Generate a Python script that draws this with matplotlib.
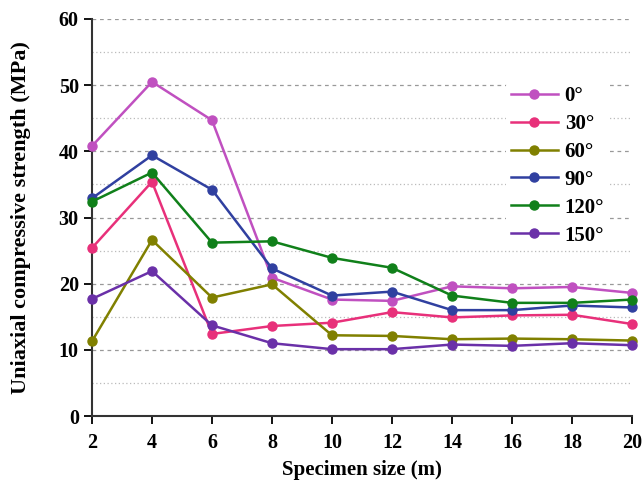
import matplotlib.pyplot as plt
from matplotlib.ticker import MultipleLocator

plt.rcParams["font.family"] = ["Liberation Serif", "DejaVu Serif"]
plt.rcParams["font.weight"] = "bold"

sizes = [2, 4, 6, 8, 10, 12, 14, 16, 18, 20]
labels = ["0°", "30°", "60°", "90°", "120°", "150°"]
ucs_0 = [40.8, 50.5, 44.7, 20.9, 17.6, 17.4, 19.6, 19.3, 19.5, 18.6]
ucs_30 = [25.4, 35.4, 12.4, 13.6, 14.1, 15.7, 14.9, 15.2, 15.3, 13.9]
ucs_60 = [11.3, 26.6, 17.9, 19.9, 12.2, 12.1, 11.6, 11.7, 11.6, 11.4]
ucs_90 = [32.9, 39.4, 34.2, 22.3, 18.2, 18.8, 16.0, 16.0, 16.7, 16.4]
ucs_120 = [32.4, 36.8, 26.2, 26.4, 23.9, 22.4, 18.2, 17.1, 17.1, 17.6]
ucs_150 = [17.7, 21.9, 13.7, 11.0, 10.1, 10.1, 10.8, 10.6, 11.0, 10.7]
colors = ["#c050c0", "#e8307a", "#808000", "#3040a0", "#10801a", "#6a30a8"]


def main():
    fig = plt.figure(figsize=(6.44, 4.84), dpi=100)
    ax = fig.add_axes([92 / 644, 68 / 484, 540 / 644, 397 / 484])

    series = [ucs_0, ucs_30, ucs_60, ucs_90, ucs_120, ucs_150]
    for vals, lab, c in zip(series, labels, colors):
        ax.plot(sizes, vals, color=c, lw=1.8, marker="o", ms=6.5,
                mfc=c, mec=c, label=lab, zorder=3, clip_on=False)

    ax.set_xlim(2, 20)
    ax.set_ylim(0, 60)
    ax.set_xticks(sizes)
    ax.yaxis.set_major_locator(MultipleLocator(10))
    ax.yaxis.set_minor_locator(MultipleLocator(5))
    ax.grid(True, which="major", axis="y", ls=(0, (3, 3)), color="#999999", lw=0.9)
    ax.grid(True, which="minor", axis="y", ls=(0, (1, 2)), color="#bbbbbb", lw=0.9)
    ax.tick_params(axis="y", which="minor", length=0)
    ax.tick_params(axis="both", which="major", direction="out", length=6, width=1.3,
                   labelsize=14.5)
    ax.tick_params(axis="x", pad=6)
    ax.spines[["top", "right"]].set_visible(False)
    for s in ["left", "bottom"]:
        ax.spines[s].set_linewidth(1.5)
        ax.spines[s].set_color("#333333")

    ax.set_xlabel("Specimen size (m)", fontsize=15, fontweight="bold", labelpad=5)
    ax.set_ylabel("Uniaxial compressive strength (MPa)", fontsize=16,
                  fontweight="bold", labelpad=20)

    leg = ax.legend(loc="upper left", bbox_to_anchor=(0.748, 0.868), frameon=True,
                    fontsize=15, handlelength=2.3, handletextpad=0.3,
                    labelspacing=0.38, borderpad=0.2)
    leg.get_frame().set_edgecolor("none")
    leg.get_frame().set_facecolor("white")
    leg.get_frame().set_alpha(1)

    fig.savefig("out.png", dpi=100)


if __name__ == "__main__":
    main()
